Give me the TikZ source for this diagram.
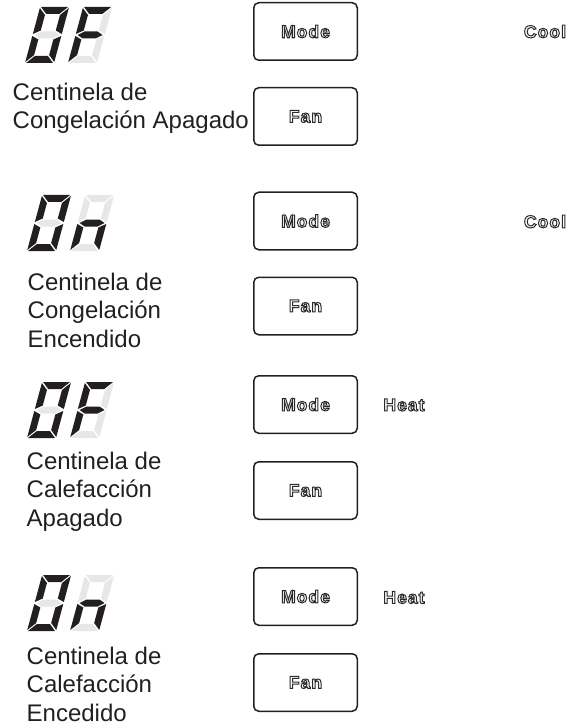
\documentclass[tikz,border=0pt]{standalone}
\usepackage{fontspec}
\setmainfont{Liberation Sans}
\newfontfamily\btnfont[LetterSpace=6]{Liberation Sans}
\definecolor{ink}{HTML}{231F20}
\definecolor{segon}{HTML}{231F20}
\definecolor{segoff}{HTML}{E6E7E8}
\definecolor{olc}{HTML}{2A2A2A}
\newcommand\olt[1]{\special{pdf:literal direct 1 Tr 1 w}#1\special{pdf:literal direct 0 Tr}}
\newcommand\fs{\rule{0pt}{20pt}}
% seven-segment digit: #1,#2 origin (bottom-left); #3..#9 = colours of a b c d e f g
\newcommand\segdig[9]{%
\begin{scope}[shift={(#1,#2)}, xslant=0.27, yscale=-1]
 \fill[#3] (1,56) -- (28,56) -- (21,49) -- (8,49) -- cycle;
 \fill[#4] (29,55) -- (22,48) -- (22,32.5) -- (29,29) -- cycle;
 \fill[#5] (29,1) -- (22,8) -- (22,23.5) -- (29,27) -- cycle;
 \fill[#6] (1,0) -- (28,0) -- (21,7) -- (8,7) -- cycle;
 \fill[#7] (0,1) -- (7,8) -- (7,23.5) -- (0,27) -- cycle;
 \fill[#8] (0,55) -- (7,48) -- (7,32.5) -- (0,29) -- cycle;
 \fill[#9] (2,28) -- (8,31.5) -- (21,31.5) -- (27,28) -- (21,24.5) -- (8,24.5) -- cycle;
\end{scope}}
\newcommand\digzero[2]{\segdig{#1}{#2}{segon}{segon}{segon}{segon}{segon}{segon}{segoff}}
\newcommand\digF[2]{\segdig{#1}{#2}{segon}{segoff}{segoff}{segoff}{segon}{segon}{segon}}
\newcommand\dign[2]{\segdig{#1}{#2}{segoff}{segoff}{segon}{segoff}{segon}{segoff}{segon}}
\tikzset{
  btn/.style={draw=ink, line width=1.5pt, rounded corners=5pt, minimum width=103.5pt,
    minimum height=57.5pt, inner sep=0pt, font=\btnfont\bfseries\fontsize{17.5}{20}\selectfont, text=olc},
  tag/.style={inner sep=0pt, font=\btnfont\bfseries\fontsize{17.5}{20}\selectfont, text=olc},
  lbl/.style={anchor=north west, inner sep=0pt, align=left, text=ink,
    font=\fontsize{24}{28.7}\selectfont}
}
\begin{document}
\begin{tikzpicture}[x=1pt, y=-1pt]
\useasboundingbox (0,0) rectangle (579,727);

% group 1
\digzero{25}{63}
\digF{68}{63}
\node[lbl] (l1) at (12.5,80) {\fs Centinela de\\Congelación Apagado};
\node[btn] (m1) at (305.5,31.5) {\olt{Mode}};
\node[btn] (f1) at (305.5,116.5) {\olt{Fan}};
\node[tag] (c1) at (545,31.5) {\olt{Cool}};

% group 2
\digzero{27}{251}
\dign{70}{251}
\node[lbl] (l2) at (27.5,270) {\fs Centinela de\\Congelación\\Encendido};
\node[btn] (m2) at (305.5,221) {\olt{Mode}};
\node[btn] (f2) at (305.5,306) {\olt{Fan}};
\node[tag] (c2) at (545,221.5) {\olt{Cool}};

% group 3
\digzero{27}{438}
\digF{70}{438}
\node[lbl] (l3) at (26.5,449) {\fs Centinela de\\Calefacción\\Apagado};
\node[btn] (m3) at (305.5,404.5) {\olt{Mode}};
\node[btn] (f3) at (305.5,490.5) {\olt{Fan}};
\node[tag] (h3) at (404,405) {\olt{Heat}};

% group 4
\digzero{27}{631}
\dign{70}{631}
\node[lbl] (l4) at (26.5,644) {\fs Centinela de\\Calefacción\\Encedido};
\node[btn] (m4) at (305.5,596.5) {\olt{Mode}};
\node[btn] (f4) at (305.5,682.5) {\olt{Fan}};
\node[tag] (h4) at (404,597.5) {\olt{Heat}};
\end{tikzpicture}
\end{document}
